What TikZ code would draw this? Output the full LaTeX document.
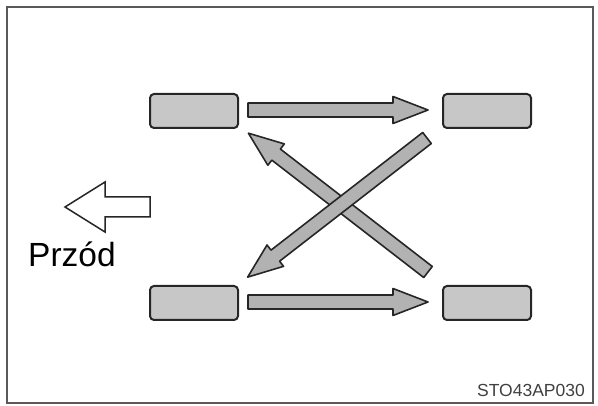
\documentclass[tikz,border=0pt]{standalone}
\usepackage{fontspec}
\setmainfont{Liberation Sans}
\begin{document}
\begin{tikzpicture}[x=1pt,y=1pt,
  tyre/.style={draw=black!85, fill=black!22, line width=2pt, rounded corners=4pt,
    minimum width=88pt, minimum height=34pt, inner sep=0pt},
  fatstyle/.style={draw=black!85, fill=black!30, line width=1.6pt, line join=round},
  pics/fatarrow/.style={code={
    \draw[fatstyle] (0,-7) -- (#1-35,-7) -- (#1-35,-13.5) -- (#1,0) -- (#1-35,13.5) -- (#1-35,7) -- (0,7) -- cycle;}}]
\useasboundingbox (0,0) rectangle (598,-406);
\draw[black!65, line width=1.5pt] (7,-7) rectangle (593,-403);
% wheels
\node[tyre] (fl) at (194,-111) {};
\node[tyre] (fr) at (487,-111) {};
\node[tyre] (rl) at (194,-303) {};
\node[tyre] (rr) at (487,-303) {};
% straight arrows
\pic at (248,-110) {fatarrow=180};
\pic at (248,-302) {fatarrow=180};
% crossing arrows
\pic[rotate=142.3] at (428,-272) {fatarrow=227};
\pic[rotate=217.8] at (427,-138) {fatarrow=227};
% front direction arrow
\draw[black!85, line width=1.5pt, fill=white, line join=miter]
  (65,-207) -- (105,-182) -- (105,-197) -- (150,-197) -- (150,-217) -- (105,-217) -- (105,-232) -- cycle;
\node[anchor=base west, inner sep=0pt, font=\fontsize{33.5}{38}\selectfont] (front) at (28,-267) {Przód};
\node[anchor=base east, inner sep=0pt, text=black!75, font=\fontsize{17.5}{20}\selectfont] (code) at (585,-397) {STO43AP030};
\end{tikzpicture}
\end{document}
